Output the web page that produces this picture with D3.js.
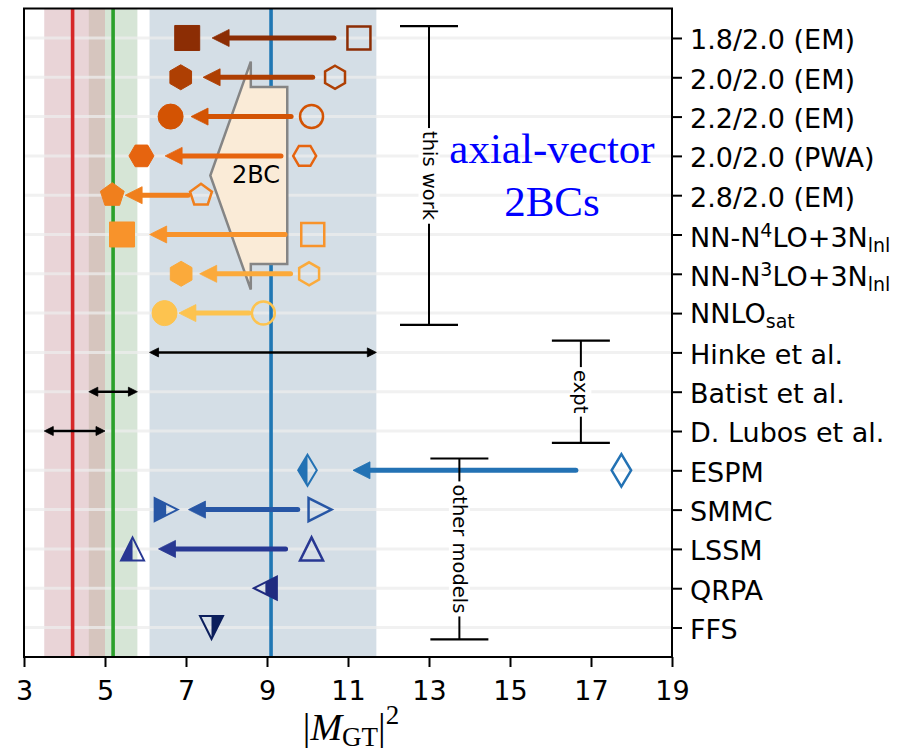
<!DOCTYPE html>
<html>
<head>
<meta charset="utf-8">
<script src="https://cdn.jsdelivr.net/npm/d3@7"></script>
<style>
  body { margin: 0; background: #fff; }
  svg { display: block; }
</style>
</head>
<body>
<svg id="chart" width="908" height="754"></svg>
<script>
// ---- data -----------------------------------------------------------------
// Row labels (top to bottom); ^{..} marks a superscript, _{..} a subscript.
const categories = [
  "1.8/2.0 (EM)", "2.0/2.0 (EM)", "2.2/2.0 (EM)", "2.0/2.0 (PWA)", "2.8/2.0 (EM)",
  "NN-N^{4}LO+3N_{lnl}", "NN-N^{3}LO+3N_{lnl}", "NNLO_{sat}",
  "Hinke et al.", "Batist et al.", "D. Lubos et al.",
  "ESPM", "SMMC", "LSSM", "QRPA", "FFS"
];

// this work: |M_GT|^2 without (open) and with (filled) axial-vector 2BCs
const thisWorkNo2BC   = [11.27, 10.68, 10.10, 9.93, 7.37, 10.13, 10.04, 8.91];
const thisWorkWith2BC = [7.03, 6.87, 6.62, 5.90, 5.18, 5.42, 6.88, 6.47];
const thisWorkSymbols = ["square", "hexagon", "circle", "hexagon2", "pentagon", "square", "hexagon", "circle"];
const thisWorkColors  = ["#8c2d04", "#ae3f03", "#d35303", "#e6640f", "#f07f1d", "#f8932b", "#fbaa3b", "#fdc34f"];

// experiments: rows 8..10, ranges and central values
const exptRows    = [8, 9, 10];
const exptLow     = [6.1, 4.6, 3.5];
const exptHigh    = [11.7, 5.8, 5.0];
const exptCentral = [9.1, 5.2, 4.2];
const exptColors  = ["#1f77b4", "#2ca02c", "#d62728"];
const exptBandColors = ["#d4dee6", "#d6e5d6", "#e9d4d7"];
const exptOverlapColor = "#d6c5be";

// other models: rows 11..15
const otherRows     = [11, 12, 13, 14, 15];
const otherBare     = [17.75, 10.31, 10.10, null, null];
const otherQuenched = [10.0, 6.51, 5.68, 8.96, 7.63];
const otherSymbols  = ["thin_diamond", "triangle_right", "triangle_up", "triangle_left", "triangle_down"];
const otherFillSide = ["left", "left", "left", "right", "right"];
const otherColors   = ["#2372b4", "#2756a5", "#283893", "#1f2b80", "#0b1e5c"];

// group brackets on the right of the panel
const bracketLabels = ["this work", "expt", "other models"];
const bracketX      = [13.0, 16.75, 13.75];
const bracketTop    = [-0.3, 7.7, 10.7];
const bracketBottom = [7.3, 10.3, 15.3];

// "2BC" outline (x in |M_GT|^2, y in rows)
const shapeX = [8.6, 8.6, 9.5, 9.5, 8.6, 8.6, 7.6];
const shapeY = [0.6, 1.25, 1.25, 5.75, 5.75, 6.4, 3.5];

const xTicks = [3, 5, 7, 9, 11, 13, 15, 17, 19];

// ---- layout -----------------------------------------------------------------
const svg = d3.select("#chart");
const x = d3.scaleLinear().domain([3, 19]).range([24, 672]);
const y = d3.scaleLinear().domain([-0.75, 15.75]).range([8.5, 657]);
const [x0, x1] = x.range();
const [y0, y1] = y.range();
const sans = "'DejaVu Sans', sans-serif";
const serif = "'Liberation Serif', 'Times New Roman', serif";

svg.append("rect").attr("width", 908).attr("height", 754).attr("fill", "#fff");

const defs = svg.append("defs");
defs.append("clipPath").attr("id", "plot-clip")
  .append("rect").attr("x", x0).attr("y", y0).attr("width", x1 - x0).attr("height", y1 - y0);
defs.append("clipPath").attr("id", "half-left").attr("clipPathUnits", "userSpaceOnUse")
  .append("rect").attr("x", -40).attr("y", -40).attr("width", 40).attr("height", 80);
defs.append("clipPath").attr("id", "half-right").attr("clipPathUnits", "userSpaceOnUse")
  .append("rect").attr("x", 0).attr("y", -40).attr("width", 40).attr("height", 80);

const plot = svg.append("g").attr("clip-path", "url(#plot-clip)");

// experimental bands
plot.selectAll("rect.band").data(exptLow).join("rect")
  .attr("class", "band")
  .attr("x", (d) => x(d))
  .attr("width", (d, i) => x(exptHigh[i]) - x(d))
  .attr("y", y0).attr("height", y1 - y0)
  .attr("fill", (d, i) => exptBandColors[i]);
// where the two lower bands overlap
{
  const lo = Math.max(exptLow[1], exptLow[2]);
  const hi = Math.min(exptHigh[1], exptHigh[2]);
  if (hi > lo) {
    plot.append("rect").attr("x", x(lo)).attr("width", x(hi) - x(lo))
      .attr("y", y0).attr("height", y1 - y0).attr("fill", exptOverlapColor);
  }
}

// horizontal grid
plot.selectAll("line.grid").data(categories).join("line")
  .attr("class", "grid")
  .attr("x1", x0).attr("x2", x1)
  .attr("y1", (d, i) => y(i)).attr("y2", (d, i) => y(i))
  .attr("stroke", "#ececec").attr("stroke-opacity", 0.75).attr("stroke-width", 3);

// central experimental values
plot.selectAll("line.central").data(exptCentral).join("line")
  .attr("class", "central")
  .attr("x1", (d) => x(d)).attr("x2", (d) => x(d))
  .attr("y1", y0).attr("y2", y1)
  .attr("stroke", (d, i) => exptColors[i]).attr("stroke-width", 3.6);

// "2BC" outline
plot.append("polygon")
  .attr("points", shapeX.map((v, i) => `${x(v)},${y(shapeY[i])}`).join(" "))
  .attr("fill", "#faebd7").attr("stroke", "#858585").attr("stroke-width", 2.5)
  .attr("stroke-linejoin", "miter");
plot.append("text")
  .attr("x", x(8.73)).attr("y", y(3.5) + 7.5)
  .attr("text-anchor", "middle")
  .attr("font-family", sans).attr("font-size", 24).attr("fill", "#000")
  .text("2BC");

// ---- helpers ----------------------------------------------------------------
function shapePath(type, s) {
  const r = s / 2;
  const poly = (pts) => "M" + pts.map((p) => p.join(",")).join("L") + "Z";
  const ring = (n, start) => d3.range(n).map((k) => {
    const a = (start + k * 360 / n) * Math.PI / 180;
    return [r * Math.cos(a), r * Math.sin(a)];
  });
  switch (type) {
    case "square": return poly([[-r, -r], [r, -r], [r, r], [-r, r]]);
    case "circle": return `M${-r},0A${r},${r} 0 1,0 ${r},0A${r},${r} 0 1,0 ${-r},0Z`;
    case "hexagon": return poly(ring(6, -90));
    case "hexagon2": return poly(ring(6, 0));
    case "pentagon": return poly(ring(5, -90));
    case "triangle_up": return poly([[0, -r], [r, r], [-r, r]]);
    case "triangle_down": return poly([[0, r], [r, -r], [-r, -r]]);
    case "triangle_right": return poly([[r, 0], [-r, -r], [-r, r]]);
    case "triangle_left": return poly([[-r, 0], [r, -r], [r, r]]);
    case "thin_diamond": return poly([[0, -r], [0.6 * r, 0], [0, r], [-0.6 * r, 0]]);
  }
}

// horizontal arrow from tail value a to tip value b on row yy
function drawArrow(g, a, b, yy, color, headLen, headHalf, shaft) {
  const xa = x(a), xb = x(b), s = Math.sign(xb - xa);
  const base = xb - s * headLen;
  g.append("line").attr("x1", xa).attr("x2", base + s * 1).attr("y1", yy).attr("y2", yy)
    .attr("stroke", color).attr("stroke-width", shaft).attr("stroke-linecap", "round");
  g.append("path")
    .attr("d", `M${xb},${yy}L${base},${yy - headHalf}L${base},${yy + headHalf}Z`)
    .attr("fill", color).attr("stroke", color).attr("stroke-width", 0.8)
    .attr("stroke-linejoin", "miter");
}
function drawDoubleArrow(g, a, b, yy, color, headLen, headHalf, shaft) {
  const xa = x(a), xb = x(b);
  g.append("line").attr("x1", xa + headLen - 1).attr("x2", xb - headLen + 1)
    .attr("y1", yy).attr("y2", yy).attr("stroke", color).attr("stroke-width", shaft);
  g.append("path").attr("d", `M${xa},${yy}L${xa + headLen},${yy - headHalf}L${xa + headLen},${yy + headHalf}Z`)
    .attr("fill", color).attr("stroke", color).attr("stroke-width", 0.8);
  g.append("path").attr("d", `M${xb},${yy}L${xb - headLen},${yy - headHalf}L${xb - headLen},${yy + headHalf}Z`)
    .attr("fill", color).attr("stroke", color).attr("stroke-width", 0.8);
}

const arrowInset = 0.145; // arrows stop short of both markers
const marks = plot.append("g");

// ---- this work --------------------------------------------------------------
thisWorkNo2BC.forEach((v, i) => {
  const w = thisWorkWith2BC[i];
  const d = v - w;
  drawArrow(marks, v - arrowInset * d, w + arrowInset * d, y(i), thisWorkColors[i], 17, 8.5, 5);
});
marks.selectAll("path.open-tw").data(thisWorkNo2BC).join("path")
  .attr("class", "open-tw")
  .attr("transform", (d, i) => `translate(${x(d)},${y(i)})`)
  .attr("d", (d, i) => shapePath(thisWorkSymbols[i], 23))
  .attr("fill", "none").attr("stroke", (d, i) => thisWorkColors[i]).attr("stroke-width", 2.5);
marks.selectAll("path.fill-tw").data(thisWorkWith2BC).join("path")
  .attr("class", "fill-tw")
  .attr("transform", (d, i) => `translate(${x(d)},${y(i)})`)
  .attr("d", (d, i) => shapePath(thisWorkSymbols[i], 25))
  .attr("fill", (d, i) => thisWorkColors[i]).attr("stroke", (d, i) => thisWorkColors[i]).attr("stroke-width", 1);

// ---- experiments --------------------------------------------------------------
exptRows.forEach((row, i) => {
  drawDoubleArrow(marks, exptLow[i], exptHigh[i], y(row), "#000", 9, 4.5, 2.5);
});

// ---- other models ------------------------------------------------------------
otherRows.forEach((row, i) => {
  const color = otherColors[i];
  const sym = otherSymbols[i];
  const bare = otherBare[i];
  const q = otherQuenched[i];
  if (bare !== null) {
    const d = bare - q;
    drawArrow(marks, bare - arrowInset * d, q + arrowInset * d, y(row), color, 17, 8.5, 5);
    marks.append("path")
      .attr("transform", `translate(${x(bare)},${y(row)})`)
      .attr("d", shapePath(sym, sym === "thin_diamond" ? 32.5 : 23))
      .attr("fill", "none").attr("stroke", color).attr("stroke-width", 2.5);
  }
  const g = marks.append("g").attr("transform", `translate(${x(q)},${y(row)})`);
  const size = sym === "thin_diamond" ? 31 : 23;
  g.append("path").attr("d", shapePath(sym, size))
    .attr("fill", color).attr("clip-path", `url(#half-${otherFillSide[i]})`);
  g.append("path").attr("d", shapePath(sym, size))
    .attr("fill", "none").attr("stroke", color).attr("stroke-width", 2);
});

// ---- group brackets ------------------------------------------------------------
bracketLabels.forEach((label, i) => {
  const bx = x(bracketX[i]);
  const ya = y(bracketTop[i]), yb = y(bracketBottom[i]);
  const g = svg.append("g");
  g.append("line").attr("x1", bx).attr("x2", bx).attr("y1", ya).attr("y2", yb)
    .attr("stroke", "#000").attr("stroke-width", 2);
  [ya, yb].forEach((yy) => {
    g.append("line").attr("x1", bx - 29).attr("x2", bx + 29).attr("y1", yy).attr("y2", yy)
      .attr("stroke", "#000").attr("stroke-width", 2.2);
  });
  const tg = g.append("g").attr("transform", `translate(${bx},${(ya + yb) / 2}) rotate(90)`);
  const bg = tg.append("rect").attr("fill", "#fff");
  const t = tg.append("text")
    .attr("text-anchor", "middle").attr("dominant-baseline", "central")
    .attr("font-family", sans).attr("font-size", 19.5).attr("fill", "#000")
    .text(label);
  const bb = t.node().getBBox();
  bg.attr("x", bb.x - 3).attr("y", bb.y + 1).attr("width", bb.width + 6).attr("height", bb.height - 2);
});

// annotation
const ann = svg.append("text")
  .attr("text-anchor", "middle")
  .attr("font-family", serif).attr("font-size", 43).attr("fill", "#0000ff");
ann.append("tspan").attr("x", 552).attr("y", 163).text("axial-vector");
ann.append("tspan").attr("x", 552).attr("y", 216).text("2BCs");

// ---- frame and axes ---------------------------------------------------------------
svg.append("rect").attr("x", x0).attr("y", y0).attr("width", x1 - x0).attr("height", y1 - y0)
  .attr("fill", "none").attr("stroke", "#000").attr("stroke-width", 2);

const xAxis = svg.append("g").attr("transform", `translate(0,${y1})`)
  .call(d3.axisBottom(x).tickValues(xTicks).tickSize(10).tickFormat(d3.format("d")));
xAxis.select(".domain").remove();
xAxis.selectAll(".tick line").attr("stroke", "#000").attr("stroke-width", 2);
xAxis.selectAll(".tick text")
  .attr("y", 42.5).attr("dy", null)
  .attr("font-family", sans).attr("font-size", 27).attr("fill", "#000");

const yAxis = svg.append("g").attr("transform", `translate(${x1},0)`)
  .call(d3.axisRight(y).tickValues(d3.range(categories.length)).tickSize(10).tickPadding(8));
yAxis.select(".domain").remove();
yAxis.selectAll(".tick line").attr("stroke", "#000").attr("stroke-width", 2);
yAxis.selectAll(".tick text").each(function (d) {
  const label = categories[d];
  const t = d3.select(this).text(null)
    .attr("font-family", sans).attr("font-size", 27).attr("fill", "#000")
    .attr("dy", null);
  const hasSup = /\^\{/.test(label);
  const hasSub = /_\{/.test(label);
  t.attr("y", 10.8 + (hasSup ? 1.4 : hasSub ? -1.2 : 0));
  const parts = label.split(/(\^\{[^}]*\}|_\{[^}]*\})/).filter((p) => p.length);
  let shift = 0;
  parts.forEach((p) => {
    let target = 0, txt = p, size = null;
    if (p.startsWith("^{")) { target = -10; txt = p.slice(2, -1); size = 19; }
    else if (p.startsWith("_{")) { target = 5; txt = p.slice(2, -1); size = 19; }
    const ts = t.append("tspan").attr("dy", target - shift).text(txt);
    if (size) ts.attr("font-size", size);
    shift = target;
  });
});

// x-axis title |M_GT|^2
const xt = svg.append("text")
  .attr("x", 351).attr("y", 740)
  .attr("text-anchor", "middle")
  .attr("font-family", serif).attr("font-size", 38).attr("fill", "#000");
xt.append("tspan").text("|");
xt.append("tspan").attr("font-style", "italic").text("M");
xt.append("tspan").attr("font-size", 27).attr("dy", 6).text("GT");
xt.append("tspan").attr("dy", -6).text("|");
xt.append("tspan").attr("font-size", 27).attr("dy", -16).text("2");
</script>
</body>
</html>
